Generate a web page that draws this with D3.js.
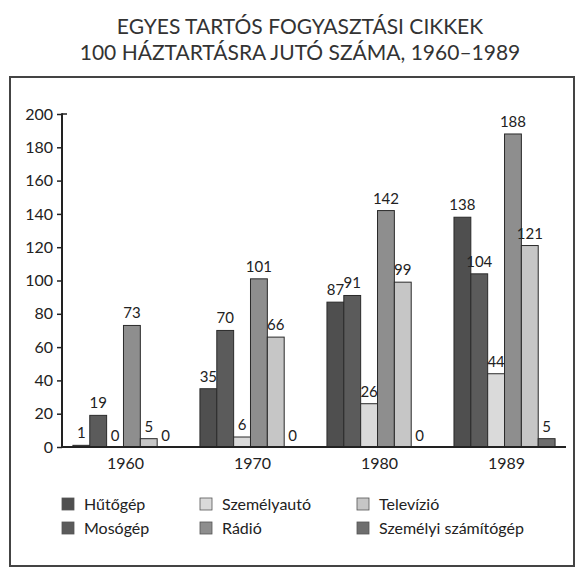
<!DOCTYPE html>
<html>
<head>
<meta charset="utf-8">
<script src="https://cdn.jsdelivr.net/npm/d3@7"></script>
<style>
  body { margin: 0; background: #fff; }
  text { font-family: Lato, "Open Sans", sans-serif; fill: #222; }
</style>
</head>
<body>
<script>
// data
const years = ['1960', '1970', '1980', '1989'];
const seriesNames = ['Hűtőgép', 'Mosógép', 'Személyautó', 'Rádió', 'Televízió', 'Személyi számítógép'];
const hutogep = [1, 35, 87, 138];
const mosogep = [19, 70, 91, 104];
const szemelyauto = [0, 6, 26, 44];
const radio = [73, 101, 142, 188];
const televizio = [5, 66, 99, 121];
const szamitogep = [0, 0, 0, 5];
const yTicks = [0, 20, 40, 60, 80, 100, 120, 140, 160, 180, 200];
const titleLines = ['EGYES TARTÓS FOGYASZTÁSI CIKKEK', '100 HÁZTARTÁSRA JUTÓ SZÁMA, 1960–1989'];

const seriesValues = [hutogep, mosogep, szemelyauto, radio, televizio, szamitogep];
const fills = ['#4f4f4f', '#5b5b5b', '#dadada', '#8e8e8e', '#c6c6c6', '#6e6e6e'];

const W = 577, H = 569;
const svg = d3.select('body').append('svg')
  .attr('width', W)
  .attr('height', H);

// frame
svg.append('rect')
  .attr('x', 10).attr('y', 77)
  .attr('width', 564).attr('height', 489)
  .attr('fill', 'none')
  .attr('stroke', '#444')
  .attr('stroke-width', 2);

// title
svg.append('g').selectAll('text')
  .data(titleLines)
  .join('text')
    .attr('x', 300)
    .attr('y', (d, i) => 34 + i * 26)
    .attr('text-anchor', 'middle')
    .style('font-size', '21px')
    .style('fill', '#333')
    .text(d => d);

// scales
const x = d3.scaleBand()
  .domain(years)
  .range([62, 566])
  .paddingInner(0.204)
  .paddingOuter(0.086);

const xs = d3.scaleBand()
  .domain(seriesNames)
  .range([0, x.bandwidth()]);

const y = d3.scaleLinear()
  .domain([0, 200])
  .range([447, 114]);

// y axis
const yAxis = svg.append('g')
  .attr('transform', 'translate(62,0)')
  .call(d3.axisLeft(y).tickValues(yTicks).tickSize(5).tickPadding(4));

yAxis.select('.domain').remove();
yAxis.selectAll('.tick line').attr('stroke', '#222').attr('stroke-width', 1.5);
yAxis.selectAll('.tick text')
  .style('font-size', '16px')
  .style('font-family', 'Lato, sans-serif')
  .attr('fill', '#222');

// top tick points right in the original
svg.append('line')
  .attr('x1', 62).attr('x2', 67)
  .attr('y1', y(200)).attr('y2', y(200))
  .attr('stroke', '#222').attr('stroke-width', 1.5);

svg.append('line')
  .attr('x1', 62).attr('x2', 62)
  .attr('y1', y(200) - 0.75).attr('y2', y(0) + 1)
  .attr('stroke', '#222').attr('stroke-width', 2);

// bars
const rows = years.map((yr, i) => ({
  year: yr,
  items: seriesNames.map((s, j) => ({ name: s, value: seriesValues[j][i], idx: j }))
}));

const groups = svg.append('g').selectAll('g')
  .data(rows)
  .join('g')
    .attr('transform', d => `translate(${x(d.year)},0)`);

groups.selectAll('rect')
  .data(d => d.items)
  .join('rect')
    .attr('x', d => xs(d.name))
    .attr('y', d => y(d.value))
    .attr('width', xs.bandwidth())
    .attr('height', d => y(0) - y(d.value))
    .attr('fill', d => fills[d.idx])
    .attr('stroke', d => d.value > 0 ? '#2a2a2a' : 'none')
    .attr('stroke-width', 1);

groups.selectAll('text')
  .data(d => d.items)
  .join('text')
    .attr('x', d => xs(d.name) + xs.bandwidth() / 2)
    .attr('y', d => y(d.value) - (d.value === 0 ? 6 : 7))
    .attr('text-anchor', 'middle')
    .style('font-size', '15px')
    .text(d => d.value);

// x axis line
svg.append('line')
  .attr('x1', 61).attr('x2', 566)
  .attr('y1', y(0)).attr('y2', y(0))
  .attr('stroke', '#222').attr('stroke-width', 2);

svg.append('g').selectAll('text')
  .data(years)
  .join('text')
    .attr('x', d => x(d) + x.bandwidth() / 2 + 2)
    .attr('y', 469)
    .attr('text-anchor', 'middle')
    .style('font-size', '16px')
    .text(d => d);

// legend, three columns of two
const legendX = [62, 200, 357];
const legend = svg.append('g').selectAll('g')
  .data(seriesNames)
  .join('g')
    .attr('transform', (d, i) => `translate(${legendX[Math.floor(i / 2)]},${498 + (i % 2) * 24})`);

legend.append('rect')
  .attr('width', 12).attr('height', 12)
  .attr('fill', (d, i) => fills[i])
  .attr('stroke', '#555')
  .attr('stroke-width', 0.8);

legend.append('text')
  .attr('x', 22)
  .attr('y', 12)
  .style('font-size', '16px')
  .text(d => d);
</script>
</body>
</html>
